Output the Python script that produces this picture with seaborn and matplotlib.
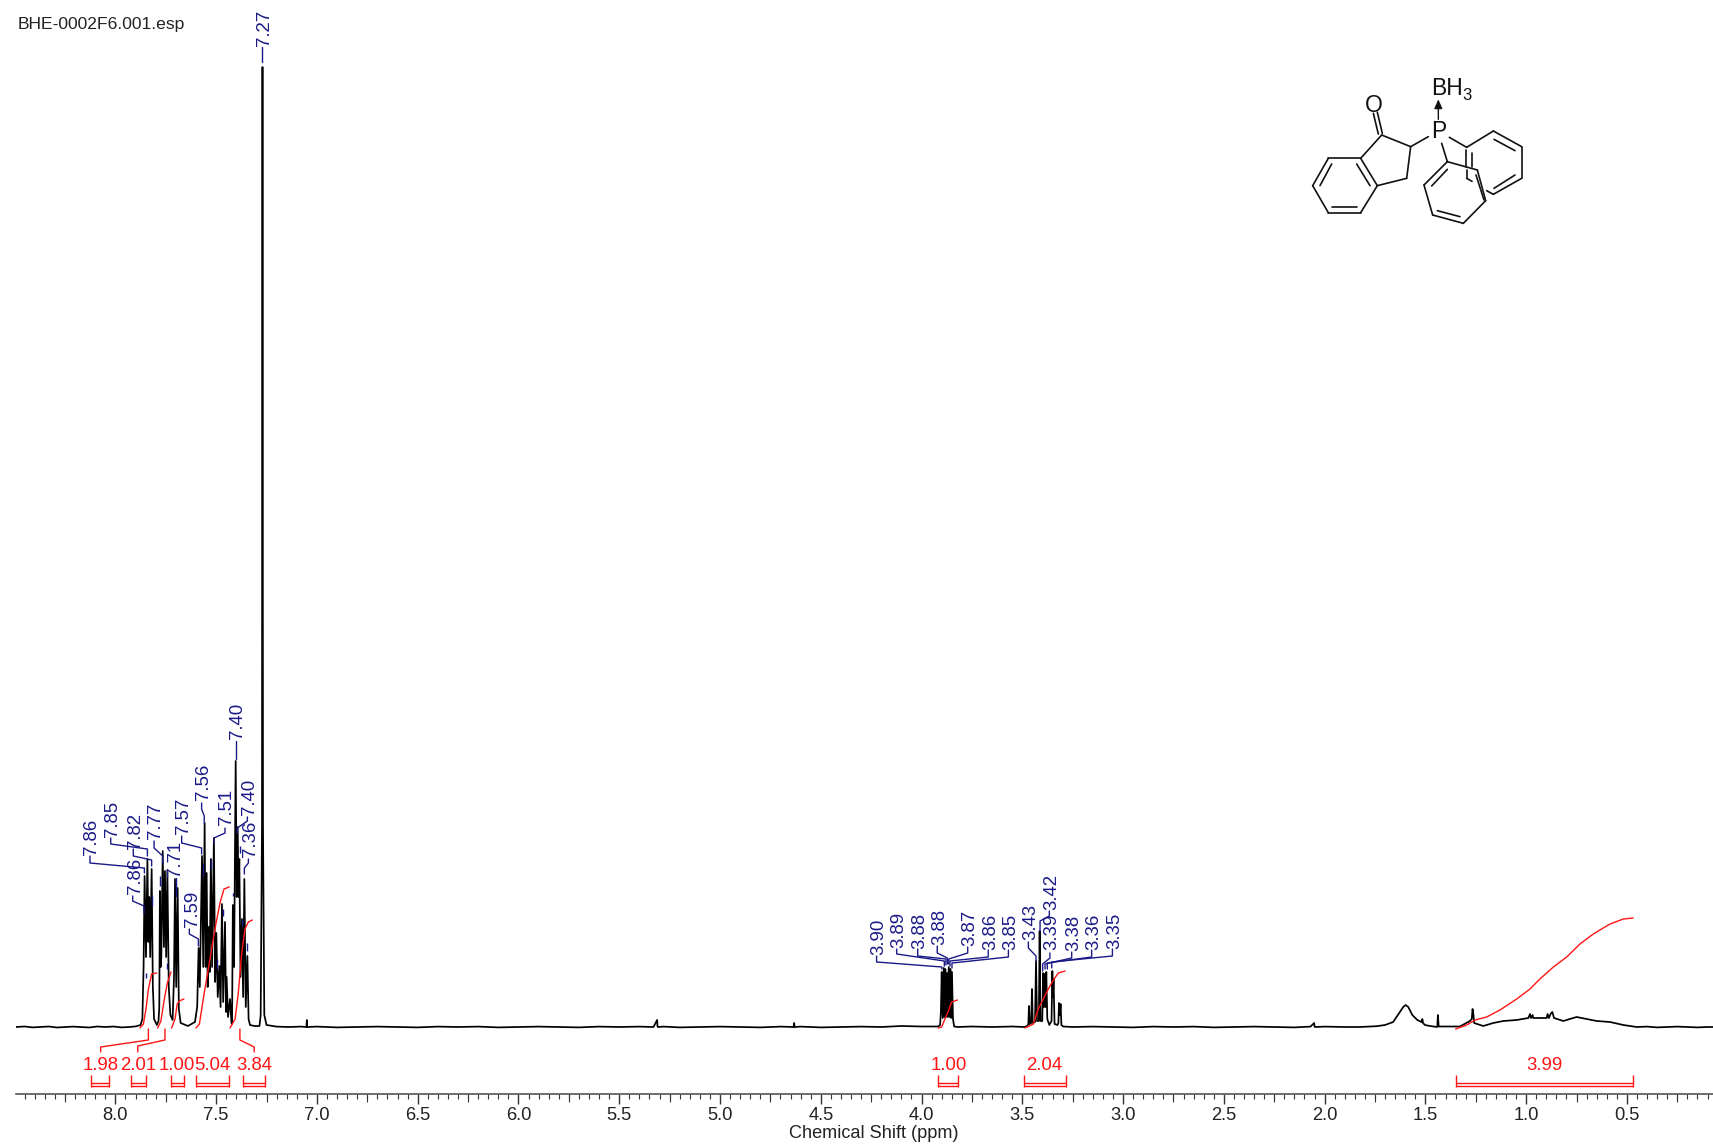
import matplotlib
matplotlib.use("Agg")
import matplotlib.pyplot as plt
from matplotlib.ticker import MultipleLocator, FixedLocator
import seaborn as sns

# ==== spectrum: ppm / height above baseline ====
left_ppm = [8.493, 8.45, 8.41, 8.37, 8.33, 8.29, 8.25, 8.21, 8.17, 8.13, 8.09, 8.05, 8.01, 7.97, 7.93, 7.90, 7.875, 7.866, 7.860]
left_h = [0, 0.5, -0.4, 0, 0.5, -0.5, 0, 0.4, 0, -0.5, 0.5, 0, 0.5, -0.4, 0, 0.6, 2, 8, 60]

arom_ppm = [7.855, 7.848, 7.841, 7.836, 7.832, 7.827, 7.820, 7.814, 7.808, 7.794, 7.786, 7.782, 7.779, 7.775, 7.772, 7.765,
            7.759, 7.754, 7.748, 7.742, 7.735, 7.727, 7.716, 7.709, 7.704, 7.698, 7.691, 7.685, 7.676, 7.640,
            7.605, 7.594, 7.587, 7.581, 7.570, 7.564, 7.557, 7.552, 7.547, 7.542, 7.537, 7.532, 7.526, 7.520,
            7.511, 7.505, 7.499, 7.492, 7.484, 7.478, 7.471, 7.465, 7.456, 7.451, 7.448, 7.441, 7.431, 7.424,
            7.421, 7.417, 7.411, 7.403, 7.398, 7.393, 7.389, 7.385, 7.379, 7.372, 7.366, 7.360, 7.353, 7.345,
            7.339, 7.332, 7.31, 7.285, 7.279, 7.2725, 7.27, 7.2675, 7.261, 7.25]
arom_h = [151, 70, 168, 85, 130, 70, 158, 40, 8, 2, 6, 20, 136, 60, 70, 176,
          80, 156, 70, 157, 40, 12, 7, 50, 148, 40, 139, 18, 4, 1,
          5, 20, 79, 40, 171, 60, 204, 60, 154, 40, 100, 55, 168, 60,
          189, 45, 94, 30, 61, 20, 123, 25, 105, 15, 50, 10, 28, 4,
          3, 122, 60, 266, 130, 200, 130, 168, 50, 108, 30, 148, 20, 71,
          8, 2, 1, 1, 12, 200, 960, 200, 12, 2]

mid_ppm = [7.2, 7.14, 7.08, 7.052, 7.05, 7.048, 7.0, 6.9, 6.8, 6.7, 6.6, 6.5, 6.4, 6.3, 6.2, 6.1, 6.0, 5.9, 5.8, 5.7,
           5.6, 5.5, 5.4, 5.33, 5.312, 5.31, 5.308, 5.28, 5.2, 5.1, 5.0, 4.9, 4.8, 4.7, 4.635, 4.632, 4.63, 4.6, 4.5,
           4.4, 4.3, 4.2, 4.1, 4.0, 3.95, 3.917, 3.908, 3.904]
mid_h = [0.4, 0, 0.4, 0, 7, 0, 0.4, -0.4, 0, 0.4, 0, -0.4, 0.4, 0, 0.4, -0.4, 0, 0.4, 0, -0.4,
         0.4, 0, 0.4, 0, 7, 0.4, 0, 0.4, -0.4, 0, 0.4, 0, -0.4, 0.4, 0, 4, 0, 0.4, -0.4,
         0, 0.4, 0, 1, 0.5, 0.5, 0.5, 2, 15]

dd1_ppm = [3.900, 3.895, 3.890, 3.886, 3.882, 3.878, 3.874, 3.870, 3.865, 3.861, 3.857, 3.853, 3.849, 3.844, 3.838, 3.82]
dd1_h = [55, 9, 59, 10, 58, 10, 54, 10, 60, 10, 58, 9, 55, 8, 0.5, 0]

dd2_ppm = [3.75, 3.65, 3.55, 3.49, 3.475, 3.470, 3.467, 3.463, 3.456, 3.452, 3.448, 3.437, 3.432, 3.427, 3.418, 3.414, 3.410,
           3.401, 3.397, 3.393, 3.389, 3.385, 3.381, 3.376, 3.366, 3.355, 3.351, 3.348, 3.345, 3.340, 3.325, 3.321, 3.318,
           3.314, 3.310, 3.306, 3.297, 3.25]
dd2_h = [0.5, 0, 0.5, 0, 1, 3, 21, 3, 4, 38, 4, 5, 66, 6, 6, 96, 6,
         6, 54, 20, 53, 20, 55, 8, 2, 6, 56, 30, 48, 3, 2, 4, 24,
         12, 23, 2, 0.5, 0]

right_ppm = [3.15, 3.05, 2.95, 2.85, 2.75, 2.65, 2.55, 2.45, 2.35, 2.25, 2.15, 2.07, 2.052, 2.05, 2.048, 2.0, 1.9, 1.825, 1.742, 1.70, 1.66,
             1.63, 1.61, 1.598, 1.585, 1.565, 1.54, 1.52, 1.518, 1.515, 1.512, 1.502, 1.477, 1.441, 1.438, 1.434, 1.329, 1.279, 1.27, 1.266,
             1.262, 1.258, 1.213, 1.163, 1.114, 1.047, 0.989, 0.981, 0.976, 0.968, 0.965, 0.898, 0.894, 0.887, 0.879,
             0.870, 0.862, 0.816, 0.750, 0.700, 0.650, 0.584, 0.518, 0.452, 0.40, 0.35, 0.30, 0.25, 0.20, 0.15, 0.10, 0.073]
right_h = [0.4, 0, -0.4, 0.4, 0, 0.4, -0.4, 0, 0.4, 0, -0.4, 0.4, 4, 0.4, 0, 0.4, 0, 0, 0.8, 2, 5,
           14, 20, 22, 20, 12, 7, 5, 5, 8, 4, 2, 1, 0, 12, 0.5, 0.5, 6, 8, 18,
           13, 4, 1, 4, 6, 7, 9, 13, 9, 12, 9, 9, 13, 9, 13,
           15, 9, 6, 10, 8, 6, 5, 2, 0, 0.4, -0.4, 0, 0.4, 0, -0.4, 0, 0]

spec_ppm = left_ppm + arom_ppm + mid_ppm + dd1_ppm + dd2_ppm + right_ppm
spec_h = left_h + arom_h + mid_h + dd1_h + dd2_h + right_h

# ==== integrals ====
int_labels = ["1.98", "2.01", "1.00", "5.04", "3.84", "1.00", "2.04", "3.99"]
int_label_ppm = [8.073, 7.889, 7.693, 7.517, 7.312, 3.867, 3.391, 0.912]
int_from = [8.121, 7.922, 7.724, 7.600, 7.367, 3.917, 3.492, 1.350]
int_to = [8.030, 7.850, 7.660, 7.435, 7.258, 3.821, 3.285, 0.469]

int_curves = [
    ([7.878, 7.861, 7.848, 7.836, 7.820, 7.795], [-1, 3, 18, 38, 53, 54]),
    ([7.790, 7.774, 7.757, 7.742, 7.724], [-1, 6, 28, 44, 55]),
    ([7.721, 7.704, 7.693, 7.683, 7.660], [-1, 8, 23, 26, 28]),
    ([7.600, 7.583, 7.564, 7.539, 7.506, 7.481, 7.461, 7.435], [-1, 3, 28, 58, 98, 124, 138, 140]),
    ([7.431, 7.406, 7.390, 7.373, 7.357, 7.340, 7.320], [-1, 8, 34, 74, 98, 105, 107]),
    ([3.917, 3.900, 3.884, 3.867, 3.851, 3.822], [-1, 0, 8, 16, 25, 27]),
    ([3.487, 3.445, 3.421, 3.396, 3.371, 3.346, 3.321, 3.288], [-1, 3, 18, 28, 38, 47, 54, 56]),
    ([1.350, 1.295, 1.254, 1.196, 1.130, 1.047, 0.981, 0.932, 0.865, 0.799, 0.733, 0.667, 0.584, 0.518, 0.469],
     [-2, 2, 7, 10, 17, 28, 38, 48, 60, 70, 83, 93, 103, 108, 109]),
]
# red leaders from the crowded integrals down to their numbers
int_leaders = [
    ([7.836, 7.836, 8.073, 8.073], [-2, -13, -20, -25]),
    ([7.754, 7.754, 7.889, 7.889], [-2, -13, -19, -25]),
    ([7.382, 7.382, 7.311, 7.311], [-2, -13, -20, -25]),
]

# ==== peak picks: text, text x, text bottom, lead start, elbow, peak x, elbow, lead end ====
pk_labels = ["7.86", "7.85", "7.82", "7.86", "7.77", "7.71", "7.57", "7.59", "7.56", "7.51", "7.40", "7.40", "7.36", "7.27",
             "3.90", "3.89", "3.88", "3.88", "3.87", "3.86", "3.85",
             "3.43", "3.42", "3.39", "3.38", "3.36", "3.35"]
pk_text_ppm = [8.129, 8.027, 7.911, 7.911, 7.812, 7.712, 7.671, 7.630, 7.572, 7.461, 7.403, 7.345, 7.340, 7.271,
               4.223, 4.123, 4.019, 3.922, 3.771, 3.669, 3.569,
               3.470, 3.366, 3.363, 3.255, 3.156, 3.053]
pk_text_h = [172, 190, 178, 133, 188, 150, 193, 100, 227, 202, 288, 212, 170, 981,
             72, 79, 78, 82, 81, 77, 77,
             87, 117, 77, 76, 77, 78]
lead_ppm = [8.126, 8.023, 7.911, 7.914, 7.808, 7.699, 7.671, 7.633, 7.572, 7.456, 7.403, 7.345, 7.340, 7.271,
            4.223, 4.123, 4.019, 3.922, 3.771, 3.669, 3.569,
            3.470, 3.366, 3.363, 3.255, 3.156, 3.053]
lead_start = [171, 189, 178, 131, 186, 149, 191, 98, 224, 199, 286, 210, 168, 980,
              71, 78, 78, 81, 80, 77, 77,
              85, 116, 74, 75, 77, 78]
lead_elbow = [164, 183, 171, 126, 179, 141, 184, 93, 218, 194, 279, 206, 164, 975,
              65, 73, 71, 74, 74, 70, 70,
              79, 111, 69, 69, 70, 71]
peak_ppm = [7.856, 7.841, 7.820, 7.858, 7.765, 7.699, 7.572, 7.588, 7.559, 7.511, 7.403, 7.395, 7.360, 7.271,
            3.899, 3.887, 3.879, 3.872, 3.865, 3.859, 3.849,
            3.432, 3.412, 3.399, 3.387, 3.376, 3.354]
peak_elbow = [159, 178, 167, 121, 171, 136, 179, 88, 211, 189, 273, 199, 159, 970,
              60, 66, 68, 69, 68, 66, 64,
              71, 106, 63, 63, 64, 65]
peak_end = [154, 171, 161, 114, 164, 131, 173, 81, 204, 184, 268, 194, 153, 965,
            58, 61, 62, 63, 63, 61, 59,
            66, 96, 56, 58, 58, 59]

# short blue pick marks that sit inside the crowded multiplet
dash_ppm = [7.779, 7.818, 7.847, 7.745, 7.563, 7.525, 7.497, 7.464, 7.382, 7.345, 7.415, 7.373]
dash_lo = [141, 121, 49, 58, 151, 158, 58, 111, 174, 76, 131, 101]
dash_hi = [151, 131, 54, 64, 164, 168, 68, 118, 181, 84, 134, 108]

tick_major = 0.5
tick_minor = 0.05
tick_mid = [8.25, 7.75, 7.25, 6.75, 6.25, 5.75, 5.25, 4.75, 4.25, 3.75, 3.25, 2.75, 2.25, 1.75, 1.25, 0.75, 0.25]

# ==== structure drawing, in its own small coordinate box ====
mol_bonds = [
    ((250, 160), (265, 222)), ((262, 157), (277, 220)),
    ((275, 225), (362, 260)), ((362, 260), (415, 230)), ((362, 260), (350, 355)),
    ((350, 355), (262, 377)), ((262, 377), (212, 295)), ((212, 295), (275, 225)),
    ((212, 295), (115, 295)), ((115, 295), (68, 377)), ((68, 377), (115, 458)),
    ((115, 458), (212, 458)), ((212, 458), (262, 377)),
    ((125, 312), (90, 377)), ((125, 440), (200, 440)), ((200, 312), (240, 377)),
    ((478, 232), (530, 262)), ((530, 262), (610, 213)), ((610, 213), (695, 260)),
    ((695, 260), (695, 355)), ((695, 355), (610, 403)), ((610, 403), (590, 392)),
    ((528, 270), (528, 322)), ((545, 278), (545, 322)), ((530, 330), (530, 355)), ((530, 355), (546, 364)),
    ((612, 238), (675, 272)), ((675, 345), (612, 385)),
    ((455, 250), (472, 305)), ((472, 305), (562, 330)), ((562, 330), (587, 422)),
    ((587, 422), (520, 490)), ((520, 490), (428, 465)), ((428, 465), (402, 375)), ((402, 375), (472, 305)),
    ((472, 328), (425, 378)), ((558, 345), (582, 420)), ((510, 470), (442, 452)),
]

sns.set_theme(style="white")
plt.rcParams['font.family'] = ['Liberation Sans', 'DejaVu Sans']
BLUE = "#1a1a88"
RED = "#ff1414"
W, H = 1713, 1146

fig = plt.figure(figsize=(W / 100, H / 100), dpi=100)
ax = fig.add_axes([16 / W, (H - 1094) / H, (W - 16) / W, 1094 / H])

sns.lineplot(x=spec_ppm, y=spec_h, sort=False, estimator=None, color="black", lw=1.25, ax=ax, zorder=2)

# peak picks
for i, txt in enumerate(pk_labels):
    sns.lineplot(x=[lead_ppm[i], lead_ppm[i], peak_ppm[i], peak_ppm[i]],
                 y=[lead_start[i], lead_elbow[i], peak_elbow[i], peak_end[i]],
                 sort=False, estimator=None, color=BLUE, lw=1, ax=ax, zorder=3)
    ax.annotate(txt, (pk_text_ppm[i], pk_text_h[i]), xytext=(1.5, 0), textcoords="offset points",
                rotation=90, ha="center", va="bottom", color=BLUE, fontsize=13.4, zorder=4)
ax.vlines(dash_ppm, dash_lo, dash_hi, color=BLUE, lw=1, zorder=3)

# integrals
for xs, ys in int_curves + int_leaders:
    sns.lineplot(x=xs, y=ys, sort=False, estimator=None, color=RED, lw=1, ax=ax, zorder=5)
for i, txt in enumerate(int_labels):
    ax.text(int_label_ppm[i], -38, txt, ha="center", va="center", color=RED, fontsize=13.4, zorder=5)
    ax.hlines([-56, -58.5], int_to[i], int_from[i], color=RED, lw=1, zorder=5)
    ax.vlines([int_from[i], int_to[i]], -60, -48, color=RED, lw=1, zorder=5)

ax.set_xlim(8.493, 0.073)
ax.set_ylim(-67, 1027)
for s in ["top", "left", "right"]:
    ax.spines[s].set_visible(False)
ax.spines["bottom"].set_color("#555555")
ax.spines["bottom"].set_linewidth(1.2)
ax.set_yticks([])
ax.set_ylabel("")
ax.xaxis.set_major_locator(MultipleLocator(tick_major))
ax.xaxis.set_minor_locator(MultipleLocator(tick_minor))
ax.tick_params(axis="x", which="major", bottom=True, length=7.2, width=1, color="#333333",
               labelsize=13.2, labelcolor="#222222", pad=2.5)
ax.tick_params(axis="x", which="minor", bottom=True, length=3.6, width=0.8, color="#333333")
ax.xaxis.set_major_formatter(lambda v, pos: f"{v:.1f}")

sec = ax.secondary_xaxis("bottom")
sec.xaxis.set_major_locator(FixedLocator(tick_mid))
sec.tick_params(axis="x", which="major", length=5.8, width=0.8, color="#333333", labelbottom=False)
sec.spines["bottom"].set_visible(False)

ax.set_xlabel("Chemical Shift (ppm)", fontsize=13.1, color="#222222", va="center")
ax.xaxis.set_label_coords((874 - 16) / (W - 16), -40 / 1094)

fig.text(18 / W, 1 - 24 / H, "BHE-0002F6.001.esp", fontsize=12.6, color="#222222", ha="left", va="center")

# structure
mol = fig.add_axes([1290 / W, 1 - 250 / H, 260 / W, 190 / H])
mol.set_xlim(0, 780)
mol.set_ylim(570, 0)
mol.axis("off")
mol.patch.set_alpha(0)
for a, b in mol_bonds:
    mol.plot([a[0], b[0]], [a[1], b[1]], color="#111111", lw=1.2, solid_capstyle="round")
mol.annotate("", xy=(445, 118), xytext=(445, 178),
             arrowprops=dict(arrowstyle="-|>,head_width=0.2,head_length=0.45", color="#111111", lw=1, shrinkA=0, shrinkB=0))
mol.text(445, 214, "P", fontsize=16.5, color="#111111", ha="center", va="center")
mol.text(250, 136, "O", fontsize=16.5, color="#111111", ha="center", va="center")
mol.text(423, 86, "BH", fontsize=16.5, color="#111111", ha="left", va="center")
mol.text(518, 106, "3", fontsize=12, color="#111111", ha="left", va="center")

fig.savefig("out.png", dpi=100)
